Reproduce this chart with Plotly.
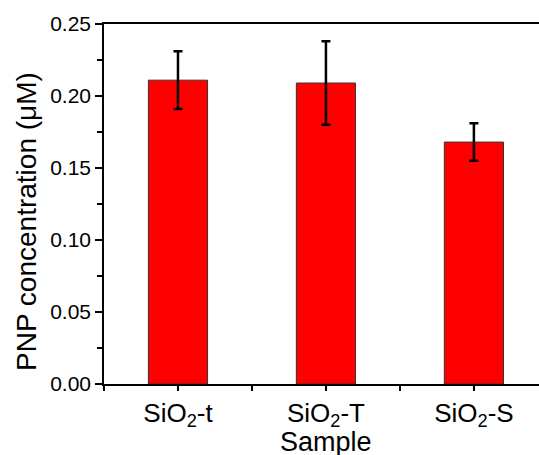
import plotly.graph_objects as go

categories = ["SiO<sub>2</sub>-t", "SiO<sub>2</sub>-T", "SiO<sub>2</sub>-S"]
positions = [1, 2, 3]
values = [0.211, 0.209, 0.168]
errors = [0.020, 0.029, 0.013]
y_ticks = [0.00, 0.05, 0.10, 0.15, 0.20, 0.25]

W, H = 539, 455
ML, MR, MT, MB = 104, 0, 24, 71

fig = go.Figure()
fig.add_trace(go.Bar(
    x=positions, y=values, width=0.4,
    marker=dict(color="#ff0000", line=dict(color="#333333", width=1)),
    error_y=dict(type="data", array=errors, visible=True, color="black",
                 thickness=2.5, width=4.5),
))

pw = W - ML - MR
ph = H - MT - MB

fig.update_layout(
    width=W, height=H,
    margin=dict(l=ML, r=MR, t=MT, b=MB),
    paper_bgcolor="white", plot_bgcolor="white",
    showlegend=False,
    font=dict(family="Liberation Sans, Arial, sans-serif", color="black"),
    xaxis=dict(
        range=[0.5, 3.44], tickvals=positions, ticktext=categories,
        ticks="outside", ticklen=5, tickwidth=1.5, tickcolor="black",
        showline=True, linecolor="black", linewidth=1.5, mirror=True,
        showgrid=False, zeroline=False,
        tickfont=dict(size=26),
        minor=dict(tickvals=[0.5, 1.5, 2.5], ticks="outside", ticklen=5,
                   tickwidth=1.5, tickcolor="black", showgrid=False),
    ),
    yaxis=dict(
        range=[0, 0.25], tickvals=y_ticks, tickformat=".2f",
        ticks="outside", ticklen=7, tickwidth=1.5, tickcolor="black",
        showline=True, linecolor="black", linewidth=1.5,
        showgrid=False, zeroline=False,
        tickfont=dict(size=21),
        minor=dict(dtick=0.025, ticks="outside", ticklen=5, tickwidth=1.5,
                   tickcolor="black", showgrid=False),
    ),
    annotations=[
        dict(text="PNP concentration (μM)", xref="paper", yref="paper",
             x=(26 - ML) / pw, y=(H - MB - 222) / ph,
             xanchor="center", yanchor="middle",
             showarrow=False, textangle=-90, font=dict(size=28)),
        dict(text="Sample", xref="paper", yref="paper",
             x=(326 - ML) / pw, y=(H - MB - 442) / ph,
             xanchor="center", yanchor="middle",
             showarrow=False, font=dict(size=27)),
    ],
)

fig.write_html("out.html", config={"displayModeBar": False},
               post_script="document.body.style.margin='0';")
